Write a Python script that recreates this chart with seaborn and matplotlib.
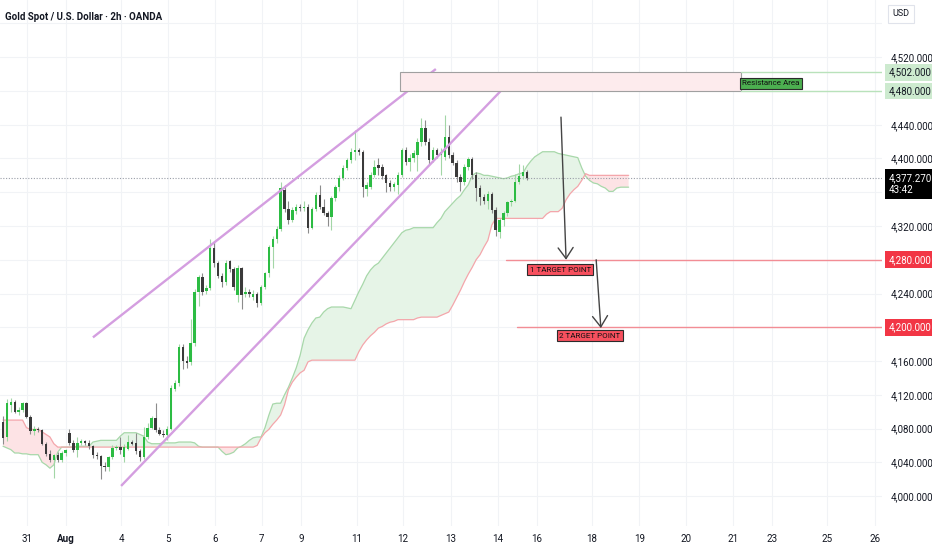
import numpy as np
import pandas as pd
import seaborn as sns
import matplotlib.pyplot as plt
import matplotlib.transforms as mtransforms
from matplotlib.patches import Rectangle

# Gold spot 2h candles (bar index 0 = Jul 30 evening), prices
opens = [4088, 4070, 4108, 4112, 4100, 4102, 4110, 4094, 4077, 4080,
         4078, 4062, 4050, 4043, 4049, 4043, 4051, 4075, 4063, 4055,
         4063, 4065, 4063, 4059, 4049, 4047, 4036, 4034, 4046, 4057,
         4058, 4046, 4056, 4064, 4063, 4053, 4046, 4070, 4081, 4093,
         4078, 4074, 4072, 4080, 4127, 4134, 4177, 4160, 4159, 4181,
         4242, 4260, 4243, 4246, 4294, 4276, 4261, 4254, 4278, 4269,
         4238, 4270, 4240, 4242, 4236, 4240, 4229, 4248, 4264, 4295,
         4305, 4317, 4363, 4340, 4327, 4338, 4343, 4341, 4343, 4318,
         4340, 4357, 4343, 4335, 4331, 4353, 4366, 4377, 4389, 4398,
         4408, 4410, 4408, 4364, 4366, 4381, 4392, 4390, 4380, 4371,
         4366, 4368, 4380, 4410, 4396, 4400, 4404, 4420, 4436, 4420,
         4398, 4410, 4404, 4402, 4426, 4404, 4395, 4378, 4372, 4390,
         4399, 4380, 4365, 4354, 4350, 4358, 4339, 4313, 4327, 4335,
         4348, 4350, 4372, 4379, 4384]
highs = [4095, 4115, 4116, 4114, 4106, 4112, 4112, 4096, 4083, 4082,
         4079, 4064, 4054, 4050, 4052, 4053, 4056, 4080, 4066, 4070,
         4068, 4067, 4066, 4061, 4052, 4049, 4040, 4048, 4060, 4060,
         4070, 4062, 4072, 4066, 4075, 4056, 4082, 4086, 4095, 4110,
         4082, 4078, 4083, 4132, 4138, 4180, 4180, 4166, 4210, 4245,
         4262, 4264, 4250, 4305, 4302, 4279, 4264, 4280, 4280, 4272,
         4274, 4272, 4248, 4245, 4244, 4242, 4250, 4266, 4298, 4308,
         4320, 4372, 4368, 4350, 4342, 4346, 4346, 4350, 4346, 4342,
         4360, 4368, 4352, 4338, 4355, 4368, 4380, 4392, 4400, 4413,
         4434, 4413, 4410, 4372, 4384, 4398, 4400, 4393, 4382, 4374,
         4372, 4384, 4412, 4414, 4405, 4410, 4424, 4448, 4446, 4424,
         4414, 4412, 4412, 4452, 4440, 4408, 4398, 4382, 4394, 4402,
         4402, 4384, 4368, 4358, 4362, 4360, 4342, 4330, 4338, 4350,
         4352, 4382, 4394, 4392, 4386]
lows = [4062, 4065, 4100, 4098, 4096, 4100, 4092, 4074, 4072, 4076,
        4060, 4048, 4040, 4021, 4040, 4040, 4048, 4060, 4052, 4046,
        4060, 4060, 4056, 4045, 4044, 4020, 4030, 4030, 4044, 4054,
        4050, 4040, 4054, 4060, 4050, 4042, 4044, 4068, 4079, 4076,
        4072, 4070, 4066, 4078, 4124, 4130, 4150, 4152, 4155, 4178,
        4225, 4238, 4240, 4244, 4272, 4258, 4248, 4250, 4265, 4244,
        4230, 4222, 4236, 4236, 4232, 4224, 4226, 4245, 4260, 4270,
        4300, 4314, 4336, 4322, 4325, 4334, 4338, 4338, 4312, 4316,
        4338, 4340, 4333, 4320, 4315, 4350, 4362, 4374, 4386, 4395,
        4398, 4404, 4354, 4355, 4364, 4378, 4380, 4376, 4360, 4362,
        4362, 4358, 4378, 4392, 4385, 4396, 4385, 4415, 4416, 4394,
        4396, 4400, 4380, 4398, 4400, 4392, 4372, 4362, 4368, 4386,
        4376, 4350, 4345, 4346, 4340, 4335, 4308, 4306, 4320, 4332,
        4344, 4348, 4370, 4376, 4374]
closes = [4069, 4110, 4112, 4100, 4102, 4110, 4094, 4077, 4080, 4078,
          4062, 4050, 4043, 4049, 4043, 4051, 4054, 4063, 4055, 4063,
          4065, 4063, 4059, 4049, 4047, 4036, 4034, 4046, 4057, 4057,
          4054, 4058, 4064, 4062, 4053, 4046, 4070, 4081, 4093, 4078,
          4073, 4072, 4080, 4128, 4134, 4177, 4160, 4158, 4181, 4242,
          4259, 4242, 4246, 4294, 4276, 4261, 4254, 4276, 4269, 4248,
          4270, 4238, 4242, 4240, 4240, 4229, 4248, 4264, 4295, 4305,
          4317, 4365, 4340, 4327, 4339, 4343, 4341, 4343, 4318, 4340,
          4357, 4343, 4335, 4331, 4353, 4366, 4377, 4389, 4398, 4408,
          4410, 4408, 4366, 4368, 4381, 4390, 4389, 4379, 4371, 4366,
          4370, 4380, 4410, 4396, 4401, 4407, 4420, 4436, 4420, 4398,
          4410, 4404, 4408, 4426, 4404, 4395, 4378, 4372, 4390, 4399,
          4380, 4365, 4354, 4350, 4358, 4339, 4315, 4327, 4335, 4348,
          4350, 4372, 4379, 4384, 4377.27]

# Ichimoku cloud spans (already shifted 26 bars ahead)
span_a = [4059, 4057, 4055, 4051, 4051, 4050, 4050, 4049, 4049, 4049,
          4040, 4037, 4033, 4037, 4052, 4058, 4058, 4058, 4058, 4059,
          4059, 4059, 4059, 4064, 4065, 4066, 4066, 4066, 4066, 4066,
          4071, 4075, 4075, 4075, 4075, 4073, 4071, 4064, 4062, 4062,
          4062, 4063, 4063, 4063, 4063, 4064, 4064, 4064, 4064, 4063,
          4059, 4058, 4058, 4058, 4058, 4058, 4053, 4049, 4050, 4052,
          4057, 4059, 4062, 4066, 4069, 4070, 4070, 4081, 4096, 4109,
          4110, 4110, 4120, 4129, 4140, 4152, 4167, 4187, 4197, 4205,
          4211, 4212, 4218, 4222, 4224, 4224, 4224, 4224, 4223, 4222,
          4232, 4242, 4251, 4261, 4268, 4273, 4276, 4282, 4288, 4294,
          4300, 4306, 4312, 4315, 4316, 4318, 4318, 4318, 4318, 4318,
          4318, 4324, 4329, 4337, 4342, 4347, 4352, 4356, 4363, 4369,
          4380, 4383, 4382, 4380, 4380, 4379, 4378, 4377, 4376, 4377,
          4379, 4380, 4382, 4383, 4391, 4397, 4402, 4405, 4408, 4408,
          4408, 4408, 4406, 4405, 4404, 4403, 4402, 4401, 4389, 4379,
          4374, 4371, 4370, 4367, 4365, 4361, 4361, 4365, 4366, 4366,
          4366]
span_b = [4090, 4090, 4090, 4090, 4090, 4090, 4081, 4079, 4079, 4079,
          4076, 4073, 4070, 4062, 4058, 4058, 4058, 4058, 4058, 4058,
          4058, 4058, 4058, 4058, 4058, 4058, 4058, 4058, 4058, 4058,
          4058, 4058, 4058, 4058, 4058, 4058, 4058, 4058, 4058, 4058,
          4058, 4058, 4058, 4058, 4058, 4058, 4058, 4058, 4058, 4058,
          4058, 4058, 4058, 4058, 4058, 4058, 4058, 4058, 4058, 4058,
          4058, 4058, 4058, 4058, 4058, 4060, 4069, 4075, 4079, 4085,
          4090, 4096, 4108, 4126, 4135, 4141, 4146, 4149, 4159, 4161,
          4161, 4161, 4161, 4161, 4161, 4161, 4161, 4161, 4161, 4161,
          4161, 4171, 4179, 4185, 4190, 4194, 4199, 4201, 4204, 4206,
          4207, 4209, 4209, 4209, 4209, 4209, 4211, 4212, 4212, 4212,
          4212, 4212, 4214, 4216, 4218, 4226, 4235, 4244, 4254, 4263,
          4271, 4280, 4286, 4295, 4303, 4321, 4329, 4329, 4329, 4329,
          4329, 4329, 4329, 4329, 4329, 4329, 4329, 4329, 4329, 4334,
          4337, 4337, 4337, 4341, 4351, 4358, 4363, 4367, 4374, 4382,
          4380, 4380, 4380, 4380, 4380, 4380, 4380, 4380, 4380, 4380,
          4380]

# drawings (bar index, price)
upper_channel_x = [23.0, 110.7]
upper_channel_y = [4188, 4506]
lower_channel_x = [30.2, 130.4]
lower_channel_y = [4012, 4495]
zone_start, zone_end = 101.5, 188.7
zone_low, zone_high = 4480, 4502
target1, target1_start = 4280, 128.6
target2, target2_start = 4200, 131.5
arrow1_x, arrow1_y = [142.7, 144.0], [4449, 4280]
arrow2_x, arrow2_y = [151.7, 152.9], [4280, 4199]

date_pos = [6.1, 16.1, 30.2, 42.2, 54.2, 66.2, 76.2, 90.5, 102.3, 114.6,
            126.6, 136.6, 150.6, 162.7, 174.7, 186.7, 196.7, 210.7, 223.0]
date_labels = ['31', 'Aug', '4', '5', '6', '7', '9', '11', '12', '13',
               '14', '16', '18', '19', '20', '21', '23', '25', '26']
price_ticks = list(range(4000, 4561, 40))
boxed_prices = [4480, 4280, 4200, 4360, 4560]

sns.set_theme(style="white")
plt.rcParams['font.family'] = ['Liberation Sans Narrow', 'Roboto', 'DejaVu Sans']

fig = plt.figure(figsize=(9.32, 5.5), dpi=100)
ax = fig.add_axes([0, 24 / 550, 882 / 932, 526 / 550])
ax.set_xlim(-0.77, 224.8)
ax.set_ylim(3964.5, 4587.8)

df = pd.DataFrame({'open': opens, 'high': highs, 'low': lows, 'close': closes})
df['bar'] = np.arange(len(df))
up = df['close'] >= df['open']

# Ichimoku cloud
cloud = pd.DataFrame({'bar': np.arange(len(span_a)), 'a': span_a, 'b': span_b})
ax.fill_between(cloud['bar'], cloud['a'], cloud['b'], where=cloud['a'] >= cloud['b'],
                interpolate=True, color='#e6f4e7', lw=0, zorder=1)
ax.fill_between(cloud['bar'], cloud['a'], cloud['b'], where=cloud['a'] < cloud['b'],
                interpolate=True, color='#fde3e5', lw=0, zorder=1)
sns.lineplot(data=cloud, x='bar', y='a', ax=ax, color='#a8d8aa', lw=0.9, zorder=2)
sns.lineplot(data=cloud, x='bar', y='b', ax=ax, color='#f4a6ab', lw=0.9, zorder=2)

# candles
green, dark = '#2cbc43', '#3a3a3a'
ax.vlines(df['bar'][up], df['low'][up], df['high'][up], color='#a3d6a6', lw=0.8, zorder=3)
ax.vlines(df['bar'][~up], df['low'][~up], df['high'][~up], color='#8c8c8c', lw=0.8, zorder=3)
body = (df['close'] - df['open']).abs().clip(lower=1.0)
bottom = df[['open', 'close']].min(axis=1)
ax.bar(df['bar'][up], body[up], bottom=bottom[up], width=0.62, color=green, lw=0, zorder=4)
ax.bar(df['bar'][~up], body[~up], bottom=bottom[~up], width=0.62, color=dark, lw=0, zorder=4)

# channel lines
chan_col = '#d49ee0'
ax.plot(upper_channel_x, upper_channel_y, color=chan_col, lw=1.7, zorder=5, solid_capstyle='butt')
ax.plot(lower_channel_x, lower_channel_y, color=chan_col, lw=1.7, zorder=5, solid_capstyle='butt')

# resistance zone
ax.add_patch(Rectangle((zone_start, zone_low), zone_end - zone_start, zone_high - zone_low,
                       fc='#fdebed', ec='#a0a0a0', lw=0.8, zorder=5))
for lvl in (zone_low, zone_high):
    ax.plot([zone_end, 224.8], [lvl, lvl], color='#b9e2bb', lw=1, zorder=5)
ax.text(196.4, 4489, 'Resistance Area', fontsize=5.8, ha='center', va='center', color='#111111',
        zorder=7, bbox=dict(boxstyle='square,pad=0.3', fc='#4caf50', ec='#2b2b2b', lw=0.8))

# targets
ax.plot([target1_start, 224.8], [target1, target1], color='#f28d95', lw=1, zorder=5)
ax.plot([target2_start, 224.8], [target2, target2], color='#f28d95', lw=1, zorder=5)
ax.text(142.5, 4268, '1 TARGET POINT', fontsize=5.8, ha='center', va='center', color='#111111',
        zorder=7, bbox=dict(boxstyle='square,pad=0.32', fc='#f7505e', ec='#2b2b2b', lw=0.8))
ax.text(150.1, 4190, '2 TARGET POINT', fontsize=5.8, ha='center', va='center', color='#111111',
        zorder=7, bbox=dict(boxstyle='square,pad=0.32', fc='#f7505e', ec='#2b2b2b', lw=0.8))
for axs, ays in ((arrow1_x, arrow1_y), (arrow2_x, arrow2_y)):
    ax.annotate('', xy=(axs[1], ays[1]), xytext=(axs[0], ays[0]), zorder=6,
                arrowprops=dict(arrowstyle='->,head_length=0.65,head_width=0.45',
                                color='#444444', lw=1, shrinkA=0, shrinkB=0))

# last price line
last = closes[-1]
ax.axhline(last, color='#9a9ea8', lw=0.8, ls=(0, (1, 1.5)), zorder=2)

# axes styling
for s in ax.spines.values():
    s.set_visible(False)
ax.grid(True, color='#f1f3f6', lw=0.8, zorder=0)
ax.set_axisbelow(True)
ax.yaxis.tick_right()
ax.set_yticks(price_ticks, ['' if p in boxed_prices else f'{p:,.3f}' for p in price_ticks])
ax.set_xticks(date_pos, date_labels)
ax.tick_params(axis='y', length=0, pad=6, labelsize=7, labelcolor='#131722')
ax.tick_params(axis='x', length=0, pad=6, labelsize=7, labelcolor='#131722')
for lab in ax.get_xticklabels():
    if lab.get_text() == 'Aug':
        lab.set_fontweight('bold')
ax.set_xlabel('')
ax.set_ylabel('')

# price scale tags
trans = mtransforms.blended_transform_factory(ax.transAxes, ax.transData)
for p in (zone_high, zone_low):
    ax.text(1.0075, p, f'{p:,.3f}', transform=trans, fontsize=7, ha='left', va='center',
            color='#131722', clip_on=False,
            bbox=dict(boxstyle='square,pad=0.35', fc='#cdeacf', ec='none'))
for p in (target1, target2):
    ax.text(1.0075, p, f'{p:,.3f}', transform=trans, fontsize=7, ha='left', va='center',
            color='white', clip_on=False,
            bbox=dict(boxstyle='square,pad=0.35', fc='#f23645', ec='none'))
ax.annotate(f'{last:,.3f}\n43:42', xy=(1.0075, last), xycoords=trans, xytext=(0, -4.5),
            textcoords='offset points', fontsize=7, ha='left', va='center', color='white',
            annotation_clip=False, linespacing=1.3,
            bbox=dict(boxstyle='square,pad=0.4', fc='black', ec='none'))

fig.text(5 / 932, 1 - 17 / 550, 'Gold Spot / U.S. Dollar · 2h · OANDA', fontsize=7,
         fontweight='bold', color='#131722', va='center', ha='left')
fig.text(901 / 932, 1 - 14 / 550, 'USD', fontsize=6.5, color='#131722', va='center', ha='center',
         bbox=dict(boxstyle='square,pad=0.5', fc='white', ec='#e0e3eb', lw=0.8))

fig.savefig('out.png', dpi=100)
